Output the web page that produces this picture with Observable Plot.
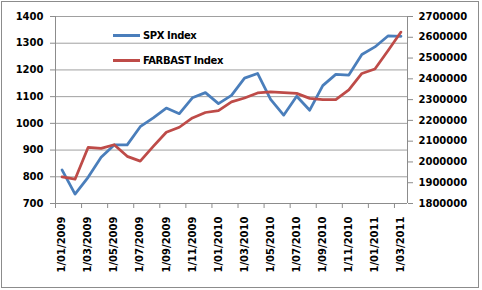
<!DOCTYPE html>
<html>
<head>
<meta charset="utf-8">
<script src="https://cdn.jsdelivr.net/npm/d3@7"></script>
<script src="https://cdn.jsdelivr.net/npm/@observablehq/plot@0.6"></script>
<style>
  html, body { margin: 0; padding: 0; background: #fff; }
  #wrap { position: relative; width: 482px; height: 290px; overflow: hidden; background: #fff; }
  #border { position: absolute; left: 1px; top: 1px; width: 476px; height: 285px; border: 1px solid #8c8c8c; pointer-events: none; }
  .legend { position: absolute; left: 113px; font: bold 10px "DejaVu Sans", sans-serif; letter-spacing: -0.4px; color: #000; display: flex; align-items: center; white-space: nowrap; }
  .legend .sw { width: 27px; height: 3px; margin-right: 3px; }
</style>
</head>
<body>
<div id="wrap">
  <div id="chart"></div>
  <div id="border"></div>
  <div class="legend" id="lg0" style="top:30px"><span class="sw"></span><span class="lbl"></span></div>
  <div class="legend" id="lg1" style="top:55px"><span class="sw"></span><span class="lbl"></span></div>
</div>
<script>
const months = [
  "1/01/2009","1/02/2009","1/03/2009","1/04/2009","1/05/2009","1/06/2009","1/07/2009",
  "1/08/2009","1/09/2009","1/10/2009","1/11/2009","1/12/2009",
  "1/01/2010","1/02/2010","1/03/2010","1/04/2010","1/05/2010","1/06/2010","1/07/2010",
  "1/08/2010","1/09/2010","1/10/2010","1/11/2010","1/12/2010",
  "1/01/2011","1/02/2011","1/03/2011"
];
const spx = [
  825.9, 735.1, 797.9, 872.8, 919.1, 919.3, 987.5, 1020.6, 1057.1, 1036.2, 1095.6, 1115.1,
  1073.9, 1104.5, 1169.4, 1186.7, 1089.4, 1030.7, 1101.6, 1049.3, 1141.2, 1183.3, 1180.6, 1257.6,
  1286.1, 1327.2, 1325.8
];
const farbast = [
  1928000, 1917000, 2070000, 2065000, 2083000, 2027000, 2004000, 2075000, 2143000, 2167000, 2212000, 2238000,
  2247000, 2289000, 2308000, 2332000, 2337000, 2334000, 2330000, 2306000, 2300000, 2300000, 2347000, 2426000,
  2447000, 2535000, 2625000
];
const seriesNames = ["SPX Index", "FARBAST Index"];
const seriesColors = ["#4a7ebb", "#be4b48"];
const leftTicks = [700, 800, 900, 1000, 1100, 1200, 1300, 1400];
const rightTicks = [1800000, 1900000, 2000000, 2100000, 2200000, 2300000, 2400000, 2500000, 2600000, 2700000];

// map right-axis values onto the left-axis domain
const L0 = leftTicks[0], L1 = leftTicks[leftTicks.length - 1];
const R0 = rightTicks[0], R1 = rightTicks[rightTicks.length - 1];
const toLeft = v => L0 + (v - R0) * (L1 - L0) / (R1 - R0);
const fromLeft = d => Math.round(R0 + (d - L0) * (R1 - R0) / (L1 - L0));

const n = months.length;
const labelIdx = d3.range(0, n, 2);
const boundaryIdx = d3.range(-0.5, n - 0.5, 2);

const font = { fontFamily: "DejaVu Sans", fontSize: "10px", fontWeight: "bold", color: "#000", background: "#fff", overflow: "visible" };

const chart = Plot.plot({
  width: 482,
  height: 290,
  marginLeft: 55,
  marginRight: 75,
  marginTop: 16,
  marginBottom: 87,
  style: font,
  x: { type: "linear", domain: [-0.5, n - 0.5] },
  y: { domain: [L0, L1] },
  marks: [
    Plot.gridY(leftTicks, { stroke: "#a0a0a0", strokeOpacity: 1 }),
    Plot.ruleX([-0.5, n - 0.5], { stroke: "#8c8c8c" }),
    Plot.ruleY([L0], { stroke: "#8c8c8c" }),
    Plot.axisY(leftTicks, { anchor: "left", tickSize: 5, tickPadding: 7, stroke: "#8c8c8c", tickFormat: d => String(d), label: null, fill: "#000" }),
    Plot.axisY(rightTicks.map(toLeft), { anchor: "right", tickSize: 5, tickPadding: 6, stroke: "#8c8c8c", tickFormat: d => String(fromLeft(d)), label: null, fill: "#000" }),
    Plot.axisX(boundaryIdx, { tickSize: 5, stroke: "#8c8c8c", tickFormat: () => "", label: null }),
    Plot.axisX(labelIdx, { tickSize: 0, tickPadding: 13, tickRotate: -90, tickFormat: i => months[i], label: null, fill: "#000" }),
    Plot.line(spx, { x: (d, i) => i, y: d => d, stroke: seriesColors[0], strokeWidth: 2.75 }),
    Plot.line(farbast, { x: (d, i) => i, y: d => toLeft(d), stroke: seriesColors[1], strokeWidth: 2.75 })
  ]
});
document.getElementById("chart").appendChild(chart);

seriesNames.forEach((name, i) => {
  const el = document.getElementById("lg" + i);
  el.querySelector(".sw").style.background = seriesColors[i];
  el.querySelector(".lbl").textContent = name;
});
</script>
</body>
</html>
